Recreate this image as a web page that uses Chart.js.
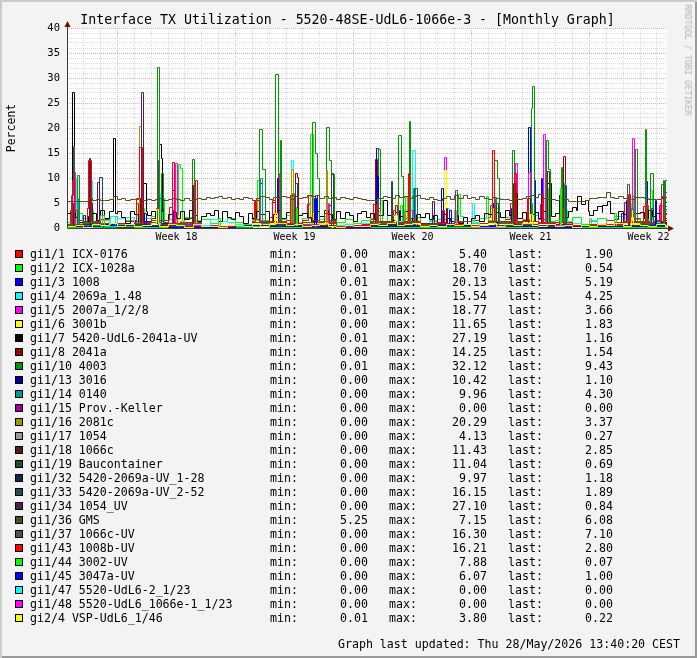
<!DOCTYPE html>
<html>
<head>
<meta charset="utf-8">
<script src="https://cdn.jsdelivr.net/npm/chart.js@4.4.1/dist/chart.umd.min.js"></script>
<style>
html, body { margin: 0; padding: 0; }
body { width: 697px; height: 658px; background: #f3f3f3; position: relative; overflow: hidden;
       font-family: 'DejaVu Sans Mono', monospace; color: #000; }
canvas { position: absolute; left: 0; top: 0; }
#frame { position: absolute; left: 0; top: 0; width: 697px; height: 658px; box-sizing: border-box;
         box-shadow: inset 2px 2px 0 #cbcbcb, inset -2px -2px 0 #999; pointer-events: none; }
.t { position: absolute; white-space: pre; }
#title { left: 347.5px; top: 12px; font-size: 13.25px; line-height: 15px; transform: translateX(-50%); }
#ylab { left: 11px; top: 128px; font-size: 11.5px; line-height: 14px; transform: translate(-50%, -50%) rotate(-90deg); }
#mark { left: 688px; top: 60px; font-size: 8.4px; line-height: 10px; color: #b4b4b4; transform: translate(-50%, -50%) rotate(90deg); }
#legend .t { font-size: 11.6px; line-height: 14px; }
.box { position: absolute; width: 8px; height: 8px; box-sizing: border-box; border: 1px solid #000; }
#foot { right: 17px; top: 637px; font-size: 11.6px; line-height: 14px; }
</style>
</head>
<body>
<canvas id="c" width="697" height="658"></canvas>
<div class="t" id="title">Interface TX Utilization - 5520-48SE-UdL6-1066e-3 - [Monthly Graph]</div>
<div class="t" id="ylab">Percent</div>
<div class="t" id="mark">RRDTOOL / TOBI OETIKER</div>
<div id="legend"></div>
<div class="t" id="foot">Graph last updated: Thu 28/May/2026 13:40:20 CEST</div>
<div id="frame"></div>
<script>
// time axis in days from the left edge of the graph
const xMax = 35.6;
const weekLabels = ['Week 18', 'Week 19', 'Week 20', 'Week 21', 'Week 22'];
const weekMid = [6.5, 13.5, 20.5, 27.5, 34.5];
const weekStart = [3, 10, 17, 24, 31];
const yMax = 40;

const names = ['gi1/1 ICX-0176', 'gi1/2 ICX-1028a', 'gi1/3 1008', 'gi1/4 2069a_1.48', 'gi1/5 2007a_1/2/8',
  'gi1/6 3001b', 'gi1/7 5420-UdL6-2041a-UV', 'gi1/8 2041a', 'gi1/10 4003', 'gi1/13 3016', 'gi1/14 0140',
  'gi1/15 Prov.-Keller', 'gi1/16 2081c', 'gi1/17 1054', 'gi1/18 1066c', 'gi1/19 Baucontainer',
  'gi1/32 5420-2069a-UV_1-28', 'gi1/33 5420-2069a-UV_2-52', 'gi1/34 1054_UV', 'gi1/36 GMS', 'gi1/37 1066c-UV',
  'gi1/43 1008b-UV', 'gi1/44 3002-UV', 'gi1/45 3047a-UV', 'gi1/47 5520-UdL6-2_1/23',
  'gi1/48 5520-UdL6_1066e-1_1/23', 'gi2/4 VSP-UdL6_1/46'];
const colors = ['#ff0000', '#00ff00', '#0000ff', '#00ffff', '#ff00ff', '#ffff00', '#000000', '#990000',
  '#009900', '#000099', '#009999', '#990099', '#999900', '#999999', '#502020', '#204e20', '#202050',
  '#204f4f', '#502050', '#50501e', '#505050', '#ff0000', '#00ff00', '#0000ff', '#00ffff', '#ff00ff', '#ffff00'];
const mins = [0.00, 0.01, 0.01, 0.01, 0.01, 0.00, 0.01, 0.00, 0.01, 0.00, 0.00, 0.00, 0.00, 0.00, 0.00, 0.00,
  0.00, 0.00, 0.00, 5.25, 0.00, 0.00, 0.00, 0.00, 0.00, 0.00, 0.01];
const maxs = [5.40, 18.70, 20.13, 15.54, 18.77, 11.65, 27.19, 14.25, 32.12, 10.42, 9.96, 0.00, 20.29, 4.13,
  11.43, 11.04, 9.97, 16.15, 27.10, 7.15, 16.30, 16.21, 7.88, 6.07, 0.00, 0.00, 3.80];
const lasts = [1.90, 0.54, 5.19, 4.25, 3.66, 1.83, 1.16, 1.54, 9.43, 1.10, 4.30, 0.00, 3.37, 0.27, 2.85, 0.69,
  1.18, 1.89, 0.84, 6.08, 7.10, 2.80, 0.07, 1.00, 0.00, 0.00, 0.22];

// quarter-day readings
const black07 = [3.0,3.1,2.2,1.2, 0.8,2.4,3.0,1.6, 3.5,2.0,3.3,3.0, 3.3,2.2,1.0,3.4, 2.8,1.2,3.4,2.6,
  3.3,2.0,3.4,1.5, 2.8,3.1,2.0,3.3, 1.8,3.5,2.6,1.4, 2.3,3.0,2.6,3.5, 1.4,3.3,2.2,1.8, 3.2,2.4,0.9,3.0,
  2.0,3.4,2.7,3.3, 1.2,2.8,3.5,2.0, 3.1,1.6,3.4,2.5, 3.0,2.2,1.4,3.3, 2.4,3.5,2.8,1.7, 3.3,2.0,3.1,2.6,
  1.3,2.9,3.4,2.2, 3.0,1.8,2.6,5.5, 2.6,1.6,3.1,2.4, 3.3,2.0,1.2,2.8, 2.2,3.0,1.7,2.5, 0.9,2.8,2.0,1.4,
  2.6,1.0,2.2,0.8, 1.9,2.6,1.3,3.0, 2.8,1.4,3.2,2.1, 3.5,2.5,7.0,2.0, 3.1,1.5,2.8,3.2, 2.0,3.3,9.0,2.4,
  3.0,6.5,2.2,3.4, 4.2,3.5,4.8,3.3, 2.6,3.6,4.4,3.2, 5.3,3.0,1.8,3.3, 2.7,3.4,1.4,2.9, 3.2,2.0,3.6,2.4, 3.0,1.2];
const gms36 = [5.4,5.4,5.4,5.4, 5.4,5.9,5.6,5.7, 5.5,5.6,5.7,6.4, 5.8,5.9,5.6,5.8, 5.7,5.9,5.5,5.8,
  5.6,5.7,5.9,5.6, 5.8,6.0,5.7,5.5, 5.9,5.6,5.8,6.0, 5.8,6.2,5.9,6.1, 6.3,6.0,6.2,5.8, 6.0,5.7,6.1,5.9,
  5.6,5.9,6.3,6.1, 5.8,6.2,6.0,6.4, 6.1,5.8,6.3,6.0, 6.2,6.6,6.3,6.5, 6.0,6.3,5.9,6.1, 5.8,6.2,6.0,5.7,
  6.1,5.9,5.8,5.5, 5.5,5.6,6.0,6.3, 6.1,6.0,6.6,6.2, 6.4,5.9,6.3,6.6, 5.9,5.7,6.1,5.8, 5.6,6.0,6.3,5.8,
  6.5,6.0,6.6,5.9, 6.2,5.7,6.4,6.0, 5.8,6.1,5.9,5.7, 5.8,5.6,5.9,5.7, 6.0,6.3,6.6,6.2, 6.7,5.9,5.7,5.8,
  5.6,5.9,5.7,5.4, 5.3,5.4,5.3,5.5, 5.9,6.0,6.2,6.1, 7.1,6.2,6.0,6.3, 5.9,5.7,5.8,6.1, 6.2,5.9,5.7,5.8, 5.7,6.1];

// half-day readings
const red01 = [0.8,1.5,1.2,0.6,1.8,0.4,0.9,1.4,1.6,1.0,2.0,0.7,1.5,1.1,1.9,0.5,0.4,0.6,0.3,0.5,0.6,0.3,1.7,0.9,
  2.2,0.8,1.5,1.2,2.0,1.0,1.3,1.6,0.5,0.7,0.4,0.8,1.8,1.1,1.4,0.9,1.9,1.2,0.7,1.0,1.2,0.6,1.1,0.8,
  1.6,1.0,2.1,0.9,1.7,1.3,1.5,1.0,1.8,0.7,0.6,0.8,0.9,0.5,1.3,0.7,1.6,1.2,1.5,1.9,1.2,0.8,1.4,1.9];
const lime02 = [1.2,0.6,2.0,0.9,1.5,2.3,0.8,1.6,0.5,1.9,2.4,1.0,1.7,0.7,2.1,1.3,1.8,0.9,1.4,2.0,1.1,0.8,2.2,1.5,
  0.6,1.8,2.5,1.0,1.9,0.7,2.3,1.4,1.1,1.7,0.9,1.5,2.0,1.2,2.6,0.8,1.6,2.1,0.7,1.3,1.8,0.9,2.4,1.4,
  1.0,2.0,1.5,0.6,2.2,1.1,1.7,2.5,0.9,1.4,1.6,1.0,2.1,0.8,1.3,1.9,0.7,2.3,1.2,1.8,0.6,1.5,0.9,0.5];
const cyan04 = [0.4,1.0,0.3,0.8,1.5,0.6,1.9,2.2,0.7,0.5,1.2,0.4,0.9,1.3,0.6,1.6,0.5,1.8,1.4,1.1,0.8,0.6,1.5,1.0,
  0.7,1.3,0.5,1.1,0.4,0.9,1.7,0.6,0.5,0.8,0.3,1.0,1.2,0.7,0.9,1.4,0.6,1.1,0.5,1.6,0.8,1.9,0.4,0.7,
  1.2,0.5,0.9,1.3,0.6,1.0,1.4,0.8,0.5,1.1,0.7,1.3,0.9,0.6,1.5,0.8,0.4,1.0,1.2,0.7,0.9,1.6,1.1,1.4];
const yellow24 = [0.3,0.6,0.2,0.8,0.5,0.9,0.4,0.7,0.3,0.6,1.0,0.4,0.8,0.5,0.2,0.7,0.3,0.4,0.2,0.5,0.6,0.3,0.9,0.4,
  0.7,1.0,0.5,0.8,0.3,0.6,0.9,0.4,0.2,0.5,0.3,0.4,0.8,0.6,1.0,0.5,0.7,0.9,0.3,0.6,0.4,0.8,0.5,0.7,
  0.3,0.6,0.9,0.4,0.8,0.5,1.0,0.6,0.4,0.7,0.3,0.5,0.2,0.6,0.4,0.8,0.5,0.9,0.3,0.7,0.6,0.4,0.8,0.2];

// daily readings
const blue03 = [0.5,1.2,0.8,0.3,1.4,1.0,0.9,0.7,0.2,0.3,0.4,1.1,0.9,0.8,1.2,1.0,0.3,0.4,1.3,0.9,1.0,0.6,0.8,0.7,0.4,1.2,1.0,1.3,0.9,1.1,0.5,0.6,0.7,1.0,1.2,1.5];
const mag05 = [0.6,0.9,0.4,0.2,0.8,1.1,0.7,0.5,0.1,0.2,0.3,0.9,1.0,0.6,0.8,0.7,0.2,0.3,0.8,0.6,0.9,0.4,0.7,0.5,0.3,0.9,1.1,0.8,1.0,0.6,0.3,0.4,0.5,0.9,0.7,1.0];
const yel06 = [0.5,0.8,0.3,0.2,0.9,1.2,0.7,0.4,0.1,0.2,0.3,0.8,1.0,0.6,0.9,0.7,0.2,0.2,0.7,1.1,0.8,0.4,0.6,0.5,0.3,1.0,0.7,0.9,0.6,0.8,0.3,0.4,0.5,1.0,0.6,0.9];
const dred08 = [0.3,0.5,0.2,0.1,0.6,0.4,0.5,0.3,0.1,0.1,0.2,0.4,0.6,0.7,0.3,0.5,0.1,0.2,0.6,0.4,0.3,0.2,0.4,0.3,0.2,0.5,0.6,0.4,0.3,0.7,0.2,0.3,0.2,0.5,0.4,0.6];
const green10 = [0.6,0.9,0.3,0.2,0.8,1.2,0.7,0.9,0.2,0.1,0.3,1.0,1.3,0.8,1.1,1.4,0.3,0.2,1.0,1.2,0.9,0.4,0.6,0.5,0.3,1.1,1.0,1.3,0.9,1.2,0.4,0.3,0.5,1.1,1.4,1.0];
const teal14 = [0.3,0.6,0.2,0.1,0.5,0.4,0.6,0.3,0.1,0.1,0.2,0.5,0.7,0.5,0.4,0.6,0.1,0.2,0.5,0.6,0.4,0.2,0.3,0.4,0.2,0.6,0.5,0.4,0.3,0.8,0.2,0.3,0.2,0.6,0.5,0.7];
const purp34 = [0.4,0.8,0.3,0.2,0.7,0.5,0.6,0.4,0.1,0.2,0.3,0.6,0.5,0.7,0.4,0.6,0.2,0.2,0.5,0.7,0.6,0.9,0.8,0.5,0.3,0.6,0.7,0.5,0.6,0.8,0.3,0.4,0.3,0.6,0.5,0.8];
const gray37 = [0.8,1.2,0.6,0.4,1.0,1.5,0.9,0.7,0.3,0.3,0.5,1.1,1.4,0.9,1.2,1.0,0.4,0.5,1.3,1.1,1.2,0.7,0.9,1.4,0.6,1.0,1.3,0.8,1.1,1.2,0.5,0.7,0.6,1.3,1.0,1.5];
const red43 = [0.7,1.3,0.9,0.5,1.1,1.6,1.0,1.2,0.3,0.4,0.5,1.4,1.2,1.0,1.5,1.1,0.4,0.6,1.2,1.0,1.3,0.6,0.9,0.8,0.5,1.3,1.1,1.4,1.0,1.2,0.6,0.5,0.7,1.2,1.1,1.4];

// two-day readings
const navy13 = [0.2,0.4,0.3,0.1,0.2,0.5,0.4,0.3,0.1,0.4,0.3,0.2,0.3,0.5,0.2,0.1,0.3,0.4];
const olive16 = [0.3,0.5,0.6,0.4,0.1,0.6,0.5,0.4,0.2,0.6,0.4,0.3,0.5,0.6,0.2,0.2,0.5,0.7];
const lgray17 = [0.2,0.3,0.1,0.2,0.1,0.3,0.2,0.4,0.1,0.2,0.3,0.2,0.1,0.2,0.1,0.1,0.2,0.3];
const brown18 = [0.3,0.4,0.2,0.1,0.2,0.4,0.3,0.5,0.2,0.4,0.3,0.2,0.4,0.5,0.3,0.2,0.4,0.6];
const dgreen19 = [0.2,0.3,0.4,0.1,0.1,0.3,0.4,0.2,0.1,0.3,0.2,0.4,0.3,0.2,0.1,0.2,0.3,0.4];
const dnavy32 = [0.3,0.4,0.3,0.2,0.1,0.4,0.5,0.3,0.2,0.5,0.4,0.3,0.4,0.3,0.2,0.3,0.4,0.5];
const slate33 = [0.4,0.6,0.5,0.3,0.2,0.6,0.7,0.5,0.3,0.7,0.5,0.4,0.6,0.5,0.3,0.4,0.6,0.7];
const lime44 = [0.2,0.3,0.2,0.1,0.1,0.3,0.2,0.3,0.1,0.2,0.1,0.2,0.3,0.2,0.1,0.1,0.2,0.2];
const blue45 = [0.3,0.5,0.4,0.2,0.1,0.5,0.4,0.3,0.2,0.4,0.3,0.5,0.4,0.3,0.2,0.3,0.4,0.6];
const idle = [0];

// short bursts: [from day, to day, percent]
const peaks01 = [[0.18,0.3,3.5],[1.19,1.31,4.0],[4.15,4.27,5.0],[6.11,6.23,4.2],[11.1,11.25,5.4],[12.17,12.35,5.2],
  [14.24,14.42,4.8],[18.16,18.28,4.7],[19.4,19.52,3.5],[25.1,25.22,4.5],[26.3,26.41,5.0],[28.07,28.19,4.8],
  [29.2,29.3,3.8],[33.1,33.23,5.2],[34.2,34.3,4.4],[35.15,35.25,4.6]];
const peaks02 = [[0.77,0.9,3.0],[1.5,1.6,3.5],[4.5,4.6,4.0],[5.65,5.76,6.0],[6.59,6.71,12.8],[6.71,6.88,12.0],
  [7.5,7.6,3.5],[11.3,11.4,9.6],[12.5,12.6,4.0],[13.5,13.6,3.5],[14.42,14.6,18.7],[18.58,18.7,5.5],
  [19.8,19.9,4.5],[20.1,20.2,6.2],[23.2,23.32,6.7],[24.87,24.99,6.3],[25.5,25.6,4.0],[26.6,26.7,5.0],
  [28.55,28.66,8.0],[29.6,29.7,3.5],[33.59,33.71,6.5],[34.6,34.72,7.5],[35.3,35.4,4.5]];
const peaks03 = [[0.6,0.7,3.0],[1.0,1.1,2.5],[4.5,4.6,2.8],[5.55,5.62,4.0],[6.3,6.4,3.5],[11.45,11.6,9.0],
  [12.6,12.7,3.2],[13.4,13.5,4.0],[14.72,14.84,6.5],[15.6,15.7,4.5],[18.34,18.46,16.0],[19.7,19.8,3.5],
  [20.3,20.36,5.0],[22.2,22.31,8.0],[25.3,25.4,5.0],[26.4,26.5,4.0],[27.36,27.48,20.1],[27.71,27.8,9.6],
  [28.13,28.19,10.0],[29.4,29.5,5.5],[32.9,33.0,3.0],[33.2,33.3,5.5],[34.36,34.42,9.3],[35.3,35.4,6.0]];
const peaks04 = [[0.53,0.59,10.0],[1.45,1.54,9.5],[2.6,2.9,2.3],[5.45,5.55,7.0],[12.46,12.58,9.2],[13.32,13.44,13.6],
  [18.46,18.58,8.5],[20.47,20.65,15.5],[22.55,22.67,4.0],[24.04,24.15,4.9],[29.5,29.58,6.0],[33.4,33.5,5.0]];
const peaks05 = [[0.47,0.53,11.2],[1.4,1.5,3.0],[4.4,4.5,4.0],[6.41,6.53,13.0],[11.4,11.47,9.0],[12.58,12.67,11.0],
  [13.4,13.5,4.5],[15.5,15.56,5.0],[18.5,18.6,4.0],[20.4,20.5,3.5],[22.37,22.49,14.2],[26.59,26.71,13.0],
  [27.36,27.48,11.2],[28.25,28.37,18.8],[29.5,29.6,4.0],[33.53,33.65,18.0],[34.4,34.5,4.5],[35.2,35.3,5.0]];
const peaks06 = [[5.3,5.4,3.0],[6.6,6.7,2.5],[12.3,12.4,3.5],[14.5,14.6,3.0],[19.52,19.64,6.5],[22.37,22.49,11.6],
  [25.3,25.4,4.0],[27.6,27.7,4.0],[33.45,33.55,3.5]];
const peaks07 = [[0.31,0.43,27.2],[2.75,2.87,18.0],[4.5,4.69,9.0],[5.49,5.6,16.8],[5.6,5.66,14.0],[6.23,6.35,7.5],
  [7.48,7.6,8.5],[30.27,30.5,6.3],[30.5,30.75,4.7],[30.75,30.92,5.6],[31.8,32.05,4.5],[32.05,32.23,5.3]];
const peaks08 = [[1.33,1.42,4.5],[4.3,4.36,6.0],[13.53,13.67,11.0],[13.67,13.75,10.2],[18.28,18.4,13.8],
  [26.47,26.59,9.0],[29.44,29.55,14.25],[33.3,33.4,5.0]];
const peaks10 = [[0.65,0.77,10.6],[5.37,5.49,32.1],[5.58,5.7,11.0],[7.42,7.54,13.8],[11.45,11.6,19.8],[11.6,11.75,11.7],
  [12.4,12.52,30.7],[12.64,12.73,17.5],[14.54,14.72,21.2],[14.72,14.84,15.0],[14.84,14.98,10.0],[15.37,15.55,20.1],
  [15.55,15.67,13.5],[15.67,15.85,10.8],[18.46,18.58,15.8],[19.64,19.82,18.5],[19.82,19.94,10.3],[20.3,20.4,21.3],
  [25.34,25.52,13.5],[25.52,25.64,10.0],[26.41,26.53,15.5],[27.54,27.6,24.0],[27.6,27.72,28.4],[28.43,28.55,17.5],
  [28.55,28.66,11.8],[29.32,29.4,12.1],[33.71,33.83,15.7],[34.3,34.4,19.8],[34.6,34.78,10.9],[35.37,35.47,9.5]];
const peaks13 = [[4.45,4.52,5.0],[12.5,12.56,6.0],[18.4,18.46,10.4],[26.5,26.56,7.0],[33.3,33.36,4.0]];
const peaks14 = [[0.6,0.66,6.0],[5.4,5.5,4.0],[11.5,11.6,10.0],[13.4,13.5,7.0],[18.4,18.5,5.0],[20.55,20.65,8.0],
  [25.4,25.5,6.0],[27.5,27.6,5.0],[29.5,29.6,9.0],[33.5,33.6,4.0]];
const peaks16 = [[4.33,4.42,20.3],[13.32,13.41,11.7],[15.37,15.45,11.6],[18.5,18.6,3.3],[20.0,20.1,3.5]];
const peaks17 = [[2.0,2.1,2.5],[13.5,13.6,4.1],[23.0,23.1,3.5],[31.0,31.1,2.0]];
const peaks18 = [[0.4,0.47,5.0],[4.4,4.5,6.0],[22.5,22.6,4.0],[28.5,28.61,11.4],[33.3,33.4,6.0]];
const peaks19 = [[5.6,5.7,4.0],[15.7,15.82,11.0],[25.5,25.6,5.0],[34.7,34.8,4.0]];
const peaks32 = [[1.4,1.5,5.0],[12.5,12.55,9.9],[27.4,27.5,6.0]];
const peaks33 = [[1.9,2.08,10.2],[13.53,13.65,9.0],[19.23,19.34,9.4],[20.59,20.77,8.0],[29.55,29.61,8.5]];
const peaks34 = [[1.31,1.42,14.0],[1.78,1.9,9.2],[4.42,4.54,27.1],[7.42,7.48,8.5],[21.66,21.78,5.3],
  [26.47,26.53,8.5],[29.26,29.32,7.8]];
const peaks37 = [[0.25,0.37,6.5],[0.37,0.43,16.3],[5.34,5.4,13.5],[18.4,18.5,6.0],[23.03,23.15,7.6],
  [33.23,33.35,8.7],[35.25,35.37,8.7]];
const peaks43 = [[0.3,0.47,9.6],[0.47,0.65,3.5],[1.2,1.3,4.0],[1.3,1.48,13.5],[4.15,4.33,6.0],[4.33,4.45,16.2],
  [5.3,5.45,4.0],[6.26,6.35,13.2],[7.6,7.72,9.5],[11.2,11.45,5.5],[12.2,12.4,5.5],[13.29,13.47,6.5],
  [14.3,14.54,6.5],[15.3,15.55,3.0],[18.16,18.34,4.7],[19.5,19.6,4.5],[20.24,20.3,11.0],[22.3,22.4,3.5],
  [25.24,25.36,15.5],[26.53,26.65,11.0],[27.3,27.36,6.0],[28.2,28.3,6.5],[29.3,29.45,4.0],[33.29,33.41,6.8],
  [34.3,34.45,5.0],[35.28,35.37,6.4]];
const peaks44 = [[2.1,2.2,2.5],[9.0,9.1,2.0],[13.6,13.7,4.0],[29.3,29.35,7.9],[32.5,32.6,3.0]];
const peaks45 = [[4.6,4.7,3.0],[14.7,14.8,6.0],[22.7,22.8,3.5],[34.9,35.0,5.5]];
const peaks24 = [[5.3,5.4,3.8],[12.4,12.5,3.0],[19.5,19.6,2.5],[27.5,27.6,2.8],[33.5,33.6,2.2]];

// [readings, days per reading, bursts] in legend order
const sources = [
  [red01, 0.5, peaks01], [lime02, 0.5, peaks02], [blue03, 1, peaks03], [cyan04, 0.5, peaks04],
  [mag05, 1, peaks05], [yel06, 1, peaks06], [black07, 0.25, peaks07], [dred08, 1, peaks08],
  [green10, 1, peaks10], [navy13, 2, peaks13], [teal14, 1, peaks14], [idle, 36, []],
  [olive16, 2, peaks16], [lgray17, 2, peaks17], [brown18, 2, peaks18], [dgreen19, 2, peaks19],
  [dnavy32, 2, peaks32], [slate33, 2, peaks33], [purp34, 1, peaks34], [gms36, 0.25, []],
  [gray37, 1, peaks37], [red43, 1, peaks43], [lime44, 2, peaks44], [blue45, 2, peaks45],
  [idle, 36, []], [idle, 36, []], [yellow24, 0.5, peaks24]
];

function valueAt(pts, x) {
  let v = pts[0][1];
  for (const p of pts) { if (p[0] <= x) v = p[1]; else break; }
  return v;
}

function build(vals, step, peaks, last) {
  let pts = vals.map((v, i) => [i * step, v]);
  for (const [a, b, v] of peaks) {
    const back = valueAt(pts, b);
    pts = pts.filter(p => p[0] < a || p[0] > b);
    pts.push([a, v], [b, back]);
    pts.sort((p, q) => p[0] - q[0]);
  }
  pts = pts.filter(p => p[0] < 35.5);
  pts.push([35.5, last], [xMax, last]);
  return pts;
}

const datasets = sources.map((s, i) => ({
  label: names[i],
  data: build(s[0], s[1], s[2], lasts[i]),
  borderColor: colors[i],
  borderWidth: 1,
  pointRadius: 0,
  stepped: true,
  fill: false,
  order: names.length - i
}));

const xTicks = [];
for (let d = 0; d <= 35; d++) xTicks.push(d);
weekMid.forEach(v => xTicks.push(v));
xTicks.sort((a, b) => a - b);
const yTicks = [];
for (let v = 0; v <= yMax; v++) yTicks.push(v);

const gridGray = '#d9d9d9';
const gridRed = '#eeaaaa';

// rrdtool draws on whole pixels: snap the scales' pixel output to pixel centres
const snapPixels = {
  id: 'snapPixels',
  afterLayout(chart) {
    for (const id of ['x', 'y']) {
      const s = chart.scales[id];
      if (s._snapped) continue;
      const orig = s.getPixelForValue.bind(s);
      s.getPixelForValue = (v, i) => Math.floor(orig(v, i)) + 0.5;
      s._snapped = true;
    }
  }
};

const rrdFrame = {
  id: 'rrdFrame',
  beforeDraw(chart) {
    const a = chart.chartArea, ctx = chart.ctx;
    ctx.save();
    ctx.fillStyle = '#ffffff';
    ctx.fillRect(a.left, a.top, a.right - a.left, a.bottom - a.top);
    ctx.restore();
  },
  afterDatasetsDraw(chart) {
    const a = chart.chartArea, ctx = chart.ctx;
    const x0 = Math.round(a.left) + 0.5, y0 = Math.round(a.bottom) + 0.5;
    ctx.save();
    ctx.strokeStyle = '#3a3a3a';
    ctx.lineWidth = 1;
    ctx.beginPath();
    ctx.moveTo(x0, y0); ctx.lineTo(x0, a.top - 4);
    ctx.moveTo(x0, y0); ctx.lineTo(a.right + 3, y0);
    ctx.stroke();
    ctx.fillStyle = '#7f0000';
    ctx.beginPath();
    ctx.moveTo(x0, a.top - 7); ctx.lineTo(x0 - 3, a.top - 1); ctx.lineTo(x0 + 3, a.top - 1);
    ctx.closePath(); ctx.fill();
    ctx.beginPath();
    ctx.moveTo(a.right + 7, y0); ctx.lineTo(a.right + 1, y0 - 3); ctx.lineTo(a.right + 1, y0 + 3);
    ctx.closePath(); ctx.fill();
    ctx.restore();
  }
};

new Chart(document.getElementById('c'), {
  type: 'line',
  data: { datasets },
  options: {
    responsive: false,
    animation: false,
    devicePixelRatio: 1,
    layout: { padding: { left: 0, top: 28, right: 30, bottom: 410 } },
    plugins: { legend: { display: false }, tooltip: { enabled: false } },
    scales: {
      x: {
        type: 'linear', min: 0, max: xMax,
        afterBuildTicks: s => { s.ticks = xTicks.map(v => ({ value: v })); },
        afterFit: s => { s.height = 20; },
        grid: {
          drawTicks: false,
          color: c => {
            const v = c.tick.value;
            if (v === 0 || !Number.isInteger(v)) return 'rgba(0,0,0,0)';
            return weekStart.includes(v) ? gridRed : gridGray;
          }
        },
        border: { display: false, dash: [1, 1] },
        ticks: {
          autoSkip: false, maxRotation: 0, padding: 3, color: '#000',
          font: { family: 'DejaVu Sans Mono', size: 10 },
          callback: v => { const k = weekMid.indexOf(v); return k >= 0 ? weekLabels[k] : ''; }
        }
      },
      y: {
        min: 0, max: yMax,
        afterBuildTicks: s => { s.ticks = yTicks.map(v => ({ value: v })); },
        afterFit: s => { s.width = 67; },
        grid: {
          drawTicks: false,
          color: c => {
            const v = c.tick.value;
            if (v === 0) return 'rgba(0,0,0,0)';
            return v % 5 === 0 ? gridRed : gridGray;
          }
        },
        border: { display: false, dash: [1, 1] },
        ticks: {
          autoSkip: false, padding: 7, color: '#000',
          font: { family: 'DejaVu Sans Mono', size: 10.5 },
          callback: v => (v % 5 === 0 ? String(v) : '')
        }
      }
    }
  },
  plugins: [snapPixels, rrdFrame]
});

// legend rows under the graph
const legend = document.getElementById('legend');
function put(text, css) {
  const d = document.createElement('div');
  d.className = 't';
  d.textContent = text;
  Object.assign(d.style, css);
  legend.appendChild(d);
  return d;
}
names.forEach((n, i) => {
  const top = 247 + 14 * i;
  const b = document.createElement('div');
  b.className = 'box';
  b.style.left = '15px';
  b.style.top = (top + 3) + 'px';
  b.style.background = colors[i];
  legend.appendChild(b);
  put(n, { left: '30px', top: top + 'px' });
  put('min:', { left: '270px', top: top + 'px' });
  put(mins[i].toFixed(2), { right: (697 - 368) + 'px', top: top + 'px' });
  put('max:', { left: '389px', top: top + 'px' });
  put(maxs[i].toFixed(2), { right: (697 - 487) + 'px', top: top + 'px' });
  put('last:', { left: '508px', top: top + 'px' });
  put(lasts[i].toFixed(2), { right: (697 - 613) + 'px', top: top + 'px' });
});
</script>
</body>
</html>
